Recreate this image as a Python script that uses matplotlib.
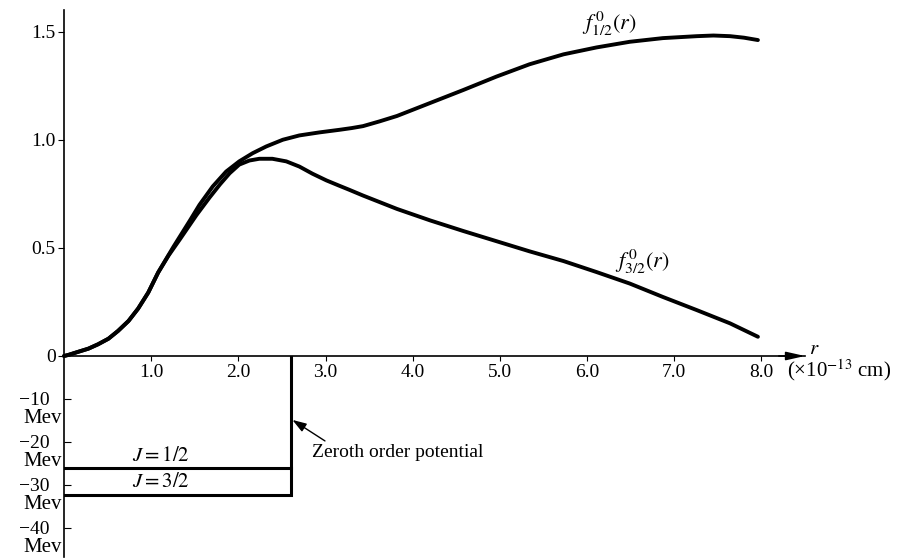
import matplotlib.pyplot as plt

plt.rcParams['font.family'] = 'serif'
plt.rcParams['font.serif'] = ['Liberation Serif', 'DejaVu Serif']
plt.rcParams['mathtext.fontset'] = 'stix'
plt.rcParams['font.size'] = 14

# radial functions, r in units of 1e-13 cm
r_half = [0, 0.05, 0.16, 0.28, 0.39, 0.51, 0.62, 0.74, 0.85, 0.966, 1.08, 1.254,
          1.445, 1.554, 1.706, 1.86, 2.01, 2.165, 2.32, 2.51, 2.70, 2.93, 3.16, 3.30,
          3.43, 3.62, 3.82, 4.01, 4.20, 4.58, 4.96, 5.34, 5.73, 6.11, 6.49, 6.87,
          7.26, 7.45, 7.64, 7.80, 7.96]
f_half = [0, 0.005, 0.019, 0.034, 0.054, 0.08, 0.116, 0.162, 0.219, 0.293, 0.386, 0.504,
          0.627, 0.699, 0.784, 0.853, 0.90, 0.938, 0.969, 1.0, 1.02, 1.034, 1.046, 1.054,
          1.063, 1.085, 1.11, 1.14, 1.170, 1.230, 1.292, 1.349, 1.395, 1.427, 1.453, 1.470,
          1.479, 1.482, 1.479, 1.472, 1.461]

r_three = [0, 0.05, 0.16, 0.28, 0.39, 0.51, 0.62, 0.74, 0.85, 0.966, 1.08, 1.20,
           1.33, 1.52, 1.67, 1.79, 1.90, 2.01, 2.127, 2.24, 2.39, 2.55, 2.70, 2.85,
           3.01, 3.16, 3.27, 3.43, 3.82, 4.20, 4.58, 4.96, 5.34, 5.73, 6.11, 6.49,
           6.87, 7.26, 7.64, 7.96]
f_three = [0, 0.005, 0.019, 0.034, 0.054, 0.08, 0.116, 0.162, 0.219, 0.293, 0.386, 0.465,
           0.54, 0.652, 0.733, 0.794, 0.845, 0.885, 0.904, 0.912, 0.912, 0.90, 0.876, 0.843,
           0.812, 0.787, 0.769, 0.742, 0.68, 0.627, 0.578, 0.531, 0.484, 0.439, 0.388, 0.335,
           0.273, 0.212, 0.151, 0.089]

x_ticks = [1, 2, 3, 4, 5, 6, 7, 8]
x_labels = ['1.0', '2.0', '3.0', '4.0', '5.0', '6.0', '7.0', '8.0']
f_ticks = [0, 0.5, 1.0, 1.5]
f_labels = ['0', '0.5', '1.0', '1.5']
mev_ticks = [-10, -20, -30, -40]
mev_labels = ['\u221210', '\u221220', '\u221230', '\u221240']

# square well (zeroth order potential) and its two depths in Mev
well_radius = 2.6
depth_half = -26.2
depth_three = -32.4

W, H = 899, 559
fig = plt.figure(figsize=(W / 100, H / 100), dpi=100)
x0, x1 = 64, 805
ax = fig.add_axes([x0 / W, 1 - 356 / H, (x1 - x0) / W, 346 / H])
ax2 = fig.add_axes([x0 / W, 1 - 557 / H, (x1 - x0) / W, 201 / H])
for a in (ax, ax2):
    a.patch.set_visible(False)
    a.set_xlim(0, 8.5)
    for s in ('top', 'right'):
        a.spines[s].set_visible(False)
    a.spines['left'].set_linewidth(1.2)

ax.set_ylim(0, 1.6)
ax2.set_ylim(-46.85, 0)

# upper panel: wave functions
ax.plot(r_half, f_half, color='k', lw=2.8, solid_joinstyle='round',
        solid_capstyle='round', clip_on=False)
ax.plot(r_three, f_three, color='k', lw=2.8, solid_joinstyle='round',
        solid_capstyle='round', clip_on=False)

ax.spines['bottom'].set_linewidth(1.2)
ax.set_xticks(x_ticks, x_labels)
ax.set_yticks(f_ticks, f_labels)
ax.tick_params(axis='x', direction='out', length=3.5, width=0.8, pad=2.5)
ax.tick_params(axis='y', direction='out', length=4, width=0.8, pad=2)

ax.annotate('', xy=(8.5, 0), xytext=(8.2, 0), annotation_clip=False,
            arrowprops=dict(arrowstyle='-|>,head_length=0.8,head_width=0.18',
                            color='k', lw=1.2, shrinkA=0, shrinkB=0))
ax.text(8.61, 0.032, '$r$', ha='center', va='center', fontsize=15, clip_on=False)
ax.annotate('(\u00d710$^{-13}$ cm)', xy=(8.29, 0), xycoords=ax.get_xaxis_transform(),
            xytext=(0, -10), textcoords='offset points', ha='left', va='center',
            fontsize=15)

ax.text(6.26, 1.535, r'$f^{\,0}_{1/2}(r)$', ha='center', va='center', fontsize=16)
ax.text(6.63, 0.433, r'$f^{\,0}_{3/2}(r)$', ha='center', va='center', fontsize=16)

# lower panel: potential well
ax2.spines['bottom'].set_visible(False)
ax2.set_xticks([])
ax2.set_yticks(mev_ticks, mev_labels)
ax2.tick_params(axis='y', direction='in', length=5, width=0.8, pad=10.5)
for v in mev_ticks:
    ax2.annotate('Mev', xy=(0, v), xycoords=ax2.get_yaxis_transform(),
                 xytext=(-1.5, -14), textcoords='offset points',
                 ha='right', va='center', fontsize=15)

ax2.plot([0, well_radius], [depth_half, depth_half], color='k', lw=2.2)
ax2.plot([0, well_radius, well_radius], [depth_three, depth_three, 0],
         color='k', lw=2.2, solid_joinstyle='miter')

ax2.text(1.11, -23.5, r'$J=1/2$', ha='center', va='center', fontsize=15)
ax2.text(1.11, -29.5, r'$J=3/2$', ha='center', va='center', fontsize=15)

ax2.annotate('Zeroth order potential', xy=(2.62, -14.9), xytext=(2.84, -22.6),
             ha='left', va='center',
             arrowprops=dict(arrowstyle='-|>,head_length=0.6,head_width=0.2',
                             color='k', lw=1.0, relpos=(0.11, 1.0),
                             shrinkA=1, shrinkB=0))

fig.savefig('out.png', dpi=100)
